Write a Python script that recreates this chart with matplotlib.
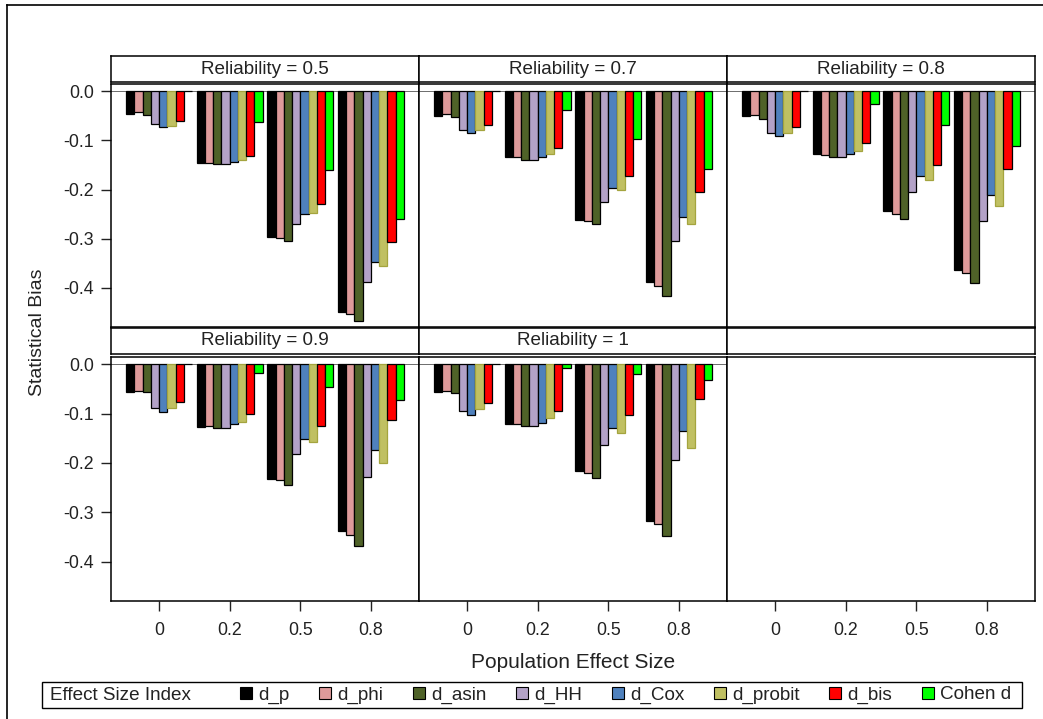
import numpy as np
import matplotlib
matplotlib.use("Agg")
import matplotlib.pyplot as plt
from matplotlib.patches import Patch, Rectangle
from matplotlib.lines import Line2D

plt.rcParams['font.family'] = ['Liberation Sans', 'DejaVu Sans']
plt.rcParams['axes.unicode_minus'] = False

# effect sizes on the x axis and the estimators (bar series)
effect_sizes = ['0', '0.2', '0.5', '0.8']
indices = ['d_p', 'd_phi', 'd_asin', 'd_HH', 'd_Cox', 'd_probit', 'd_bis', 'Cohen d']
reliabilities = ['0.5', '0.7', '0.8', '0.9', '1']

# bias per reliability: one row per index, one column per effect size
bias_r05 = [
    [-0.046, -0.146, -0.297, -0.450],
    [-0.043, -0.146, -0.299, -0.454],
    [-0.048, -0.148, -0.305, -0.467],
    [-0.067, -0.148, -0.271, -0.388],
    [-0.073, -0.143, -0.250, -0.347],
    [-0.070, -0.140, -0.247, -0.355],
    [-0.060, -0.131, -0.229, -0.307],
    [0.000, -0.063, -0.161, -0.260],
]
bias_r07 = [
    [-0.051, -0.134, -0.263, -0.388],
    [-0.047, -0.134, -0.265, -0.396],
    [-0.053, -0.139, -0.271, -0.416],
    [-0.078, -0.139, -0.225, -0.305],
    [-0.084, -0.134, -0.197, -0.255],
    [-0.079, -0.128, -0.201, -0.271],
    [-0.069, -0.116, -0.173, -0.204],
    [0.000, -0.038, -0.097, -0.158],
]
bias_r08 = [
    [-0.051, -0.128, -0.244, -0.364],
    [-0.049, -0.130, -0.249, -0.369],
    [-0.056, -0.133, -0.259, -0.391],
    [-0.084, -0.133, -0.204, -0.265],
    [-0.090, -0.128, -0.173, -0.212],
    [-0.085, -0.121, -0.180, -0.234],
    [-0.072, -0.106, -0.149, -0.158],
    [0.000, -0.025, -0.069, -0.112],
]
bias_r09 = [
    [-0.055, -0.126, -0.232, -0.339],
    [-0.053, -0.124, -0.234, -0.346],
    [-0.057, -0.130, -0.244, -0.368],
    [-0.088, -0.130, -0.182, -0.228],
    [-0.097, -0.121, -0.151, -0.173],
    [-0.088, -0.116, -0.158, -0.200],
    [-0.076, -0.100, -0.124, -0.113],
    [0.000, -0.018, -0.045, -0.073],
]
bias_r10 = [
    [-0.055, -0.120, -0.216, -0.317],
    [-0.053, -0.121, -0.221, -0.324],
    [-0.059, -0.124, -0.231, -0.349],
    [-0.094, -0.124, -0.164, -0.194],
    [-0.103, -0.118, -0.130, -0.136],
    [-0.091, -0.109, -0.140, -0.170],
    [-0.079, -0.094, -0.103, -0.070],
    [0.000, -0.007, -0.020, -0.032],
]
panels = [bias_r05, bias_r07, bias_r08, bias_r09, bias_r10]

fill_colors = ['#000000', '#DE9A9A', '#4F6228', '#B3A2C7', '#4F81BD', '#C0C062', '#FF0000', '#00FF00']
edge_colors = ['#000000', '#000000', '#000000', '#000000', '#000000', '#A4A43E', '#000000', '#000000']

W, H = 1043, 719
fig = plt.figure(figsize=(W / 100, H / 100), dpi=100)


def box(x0, y0, x1, y1):
    # pixel box (top-left origin) -> figure fraction rect
    return [x0 / W, 1 - y1 / H, (x1 - x0) / W, (y1 - y0) / H]


col_x = [111, 419, 727, 1035]
rows = [(56, 82, 84, 327), (328, 354, 357, 601)]
bar_w = 0.117
pos = np.arange(len(effect_sizes))

for r, (h0, h1, p0, p1) in enumerate(rows):
    for c in range(3):
        k = r * 3 + c
        # header strip
        hax = fig.add_axes(box(col_x[c], h0, col_x[c + 1], h1))
        hax.set_xticks([])
        hax.set_yticks([])
        for s in hax.spines.values():
            s.set_linewidth(1.1)
        if k < len(panels):
            hax.text(0.5, 0.5, 'Reliability = ' + reliabilities[k], ha='center', va='center',
                     fontsize=13.6, color='#222222', transform=hax.transAxes)

        ax = fig.add_axes(box(col_x[c], p0, col_x[c + 1], p1))
        for s in ax.spines.values():
            s.set_linewidth(1.1)
        ax.set_xlim(-0.68, 3.68)
        ax.set_ylim(-0.48, 0.015)
        ax.set_yticks([0.0, -0.1, -0.2, -0.3, -0.4])
        ax.set_xticks(pos)
        ax.set_xticklabels(effect_sizes)
        ax.tick_params(length=7, width=1, color='#222222', labelsize=12.8, labelcolor='#222222')
        ax.tick_params(axis='x', pad=8)
        ax.tick_params(axis='y', pad=5)
        ax.yaxis.set_major_formatter(matplotlib.ticker.FormatStrFormatter('%.1f'))
        if c > 0:
            ax.tick_params(axis='y', left=False, labelleft=False)
        if r == 0:
            ax.tick_params(axis='x', bottom=False, labelbottom=False)
        if k < len(panels):
            ax.axhline(0, color='#555555', lw=0.6, zorder=1)
            for i, vals in enumerate(panels[k]):
                ax.bar(pos + (i - 3.5) * bar_w, vals, width=bar_w, color=fill_colors[i],
                       edgecolor=edge_colors[i], linewidth=0.9, zorder=2)

# outer frame (left and top edges)
fig.add_artist(Line2D([7 / W, 7 / W], [0, 1 - 5 / H], color='black', lw=1.2))
fig.add_artist(Line2D([7 / W, 1], [1 - 5 / H, 1 - 5 / H], color='black', lw=1.2))

fig.text(37 / W, 1 - 332 / H, 'Statistical Bias', rotation=90, ha='center', va='center',
         fontsize=14, color='#222222')
fig.text(573 / W, 1 - 663 / H, 'Population Effect Size', ha='center', va='center',
         fontsize=15, color='#222222')

# legend box along the bottom
x0, y0, x1, y1 = 42, 682, 1022, 708
fig.add_artist(Rectangle((x0 / W, 1 - y1 / H), (x1 - x0) / W, (y1 - y0) / H,
                         transform=fig.transFigure, fill=False, edgecolor='black', lw=1.0))
fig.text(50 / W, 1 - 695 / H, 'Effect Size Index', ha='left', va='center', fontsize=13.6,
         color='#222222')
handles = [Patch(facecolor=fill_colors[i], edgecolor='black', linewidth=0.8) for i in range(len(indices))]
fig.legend(handles, indices, ncol=len(indices), loc='center left',
           bbox_to_anchor=(240 / W, 1 - 695 / H), frameon=False, fontsize=13.6,
           handlelength=0.64, handleheight=0.64, handletextpad=0.34, columnspacing=1.55,
           borderpad=0, borderaxespad=0, labelcolor='#222222')

fig.savefig('out.png', dpi=100)
